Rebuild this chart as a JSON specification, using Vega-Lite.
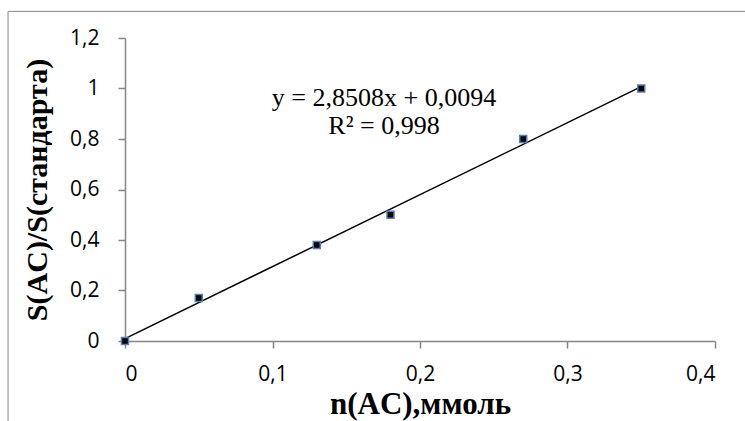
{
  "$schema": "https://vega.github.io/schema/vega-lite/v6.json",
  "width": 590,
  "height": 303,
  "autosize": {"type": "none"},
  "padding": {"left": 125, "top": 38, "right": 30, "bottom": 80},
  "background": "white",
  "config": {"view": {"stroke": null}},
  "datasets": {
    "points": [
      {"x": 0, "y": 0},
      {"x": 0.05, "y": 0.17},
      {"x": 0.13, "y": 0.38},
      {"x": 0.18, "y": 0.5},
      {"x": 0.27, "y": 0.8},
      {"x": 0.35, "y": 1.0}
    ],
    "trend": [
      {"x": 0, "y": 0.0094},
      {"x": 0.35, "y": 1.00718}
    ],
    "one": [{}]
  },
  "layer": [
    {
      "data": {"name": "one"},
      "mark": {"type": "rule", "color": "#868686", "strokeWidth": 1, "clip": false},
      "encoding": {
        "x": {"datum": -0.0793, "type": "quantitative", "scale": {"domain": [0, 0.4]}},
        "y": {"datum": 1.3055, "type": "quantitative"},
        "y2": {"datum": -0.33}
      }
    },
    {
      "data": {"name": "one"},
      "mark": {"type": "rule", "color": "#868686", "strokeWidth": 1, "clip": false},
      "encoding": {
        "x": {"datum": -0.0793, "type": "quantitative"},
        "x2": {"datum": 0.43},
        "y": {"datum": 1.3055, "type": "quantitative"}
      }
    },
    {
      "data": {"name": "trend"},
      "mark": {"type": "line", "color": "black", "strokeWidth": 1.5},
      "encoding": {
        "x": {
          "field": "x", "type": "quantitative",
          "scale": {"domain": [0, 0.4], "nice": false, "zero": true},
          "axis": {
            "values": [0, 0.1, 0.2, 0.3, 0.4],
            "labelExpr": "replace(toString(datum.value), '.', ',')",
            "title": "n(AC),ммоль",
            "titleFont": "Liberation Serif",
            "titleFontSize": 31,
            "titleFontWeight": "bold",
            "titleColor": "black",
            "titlePadding": 5,
            "labelFont": "Open Sans",
            "labelFontSize": 21,
            "labelColor": "black",
            "labelPadding": 15,
            "domainColor": "#868686",
            "domainWidth": 1.5,
            "tickColor": "#868686",
            "tickWidth": 1.5,
            "tickSize": 7,
            "grid": false
          }
        },
        "y": {
          "field": "y", "type": "quantitative",
          "scale": {"domain": [0, 1.2], "nice": false},
          "axis": {
            "values": [0, 0.2, 0.4, 0.6, 0.8, 1, 1.2],
            "labelExpr": "replace(toString(datum.value), '.', ',')",
            "title": "S(AC)/S(стандарта)",
            "titleFont": "Liberation Serif",
            "titleFontSize": 30,
            "titleFontWeight": "bold",
            "titleColor": "black",
            "titlePadding": 17,
            "labelFont": "Open Sans",
            "labelFontSize": 21,
            "labelColor": "black",
            "labelPadding": 19,
            "domainColor": "#868686",
            "domainWidth": 1.5,
            "tickColor": "#868686",
            "tickWidth": 1.5,
            "tickSize": 7,
            "grid": false
          }
        }
      }
    },
    {
      "data": {"name": "points"},
      "mark": {"type": "square", "size": 49, "filled": true, "fill": "black", "stroke": "#4f81bd", "strokeWidth": 1.5, "opacity": 1, "clip": false},
      "encoding": {
        "x": {"field": "x", "type": "quantitative"},
        "y": {"field": "y", "type": "quantitative"}
      }
    },
    {
      "data": {"name": "one"},
      "mark": {"type": "text", "font": "Liberation Serif", "fontSize": 26, "color": "black", "align": "center", "baseline": "middle"},
      "encoding": {
        "x": {"datum": 0.1756, "type": "quantitative"},
        "y": {"datum": 0.9605, "type": "quantitative"},
        "text": {"value": "y = 2,8508x + 0,0094"}
      }
    },
    {
      "data": {"name": "one"},
      "mark": {"type": "text", "font": "Liberation Serif", "fontSize": 26, "color": "black", "align": "center", "baseline": "middle"},
      "encoding": {
        "x": {"datum": 0.1756, "type": "quantitative"},
        "y": {"datum": 0.8498, "type": "quantitative"},
        "text": {"value": "R² = 0,998"}
      }
    }
  ]
}
